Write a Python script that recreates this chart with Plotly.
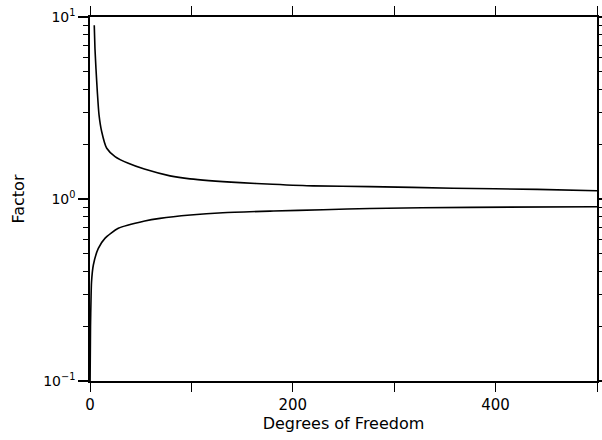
import plotly.graph_objects as go

# Upper factor curve
dof_upper = [4.2, 4.9, 5.9, 7.2, 8.9, 11.5, 16.5, 24.7, 37.8, 53.6, 78.9, 98.6,
             148, 180, 220, 276, 358, 441, 500]
factor_upper = [9.0, 6.7, 5.2, 3.9, 2.9, 2.35, 1.90, 1.71, 1.57, 1.46, 1.34, 1.29,
                1.23, 1.205, 1.18, 1.17, 1.146, 1.13, 1.11]

# Lower factor curve
dof_lower = [0.1, 0.5, 1.0, 1.5, 3.3, 8.2, 14.7, 27.9, 54, 69, 99, 131, 181,
             230, 276, 375, 500]
factor_lower = [0.10, 0.20, 0.28, 0.35, 0.434, 0.535, 0.608, 0.69, 0.757, 0.783,
                0.817, 0.841, 0.859, 0.873, 0.887, 0.90, 0.907]

x_tickvals = [0, 100, 200, 300, 400, 500]
x_ticktext = ["0", "", "200", "", "400", ""]
y_tickvals = [0.1, 1, 10]
y_ticktext = ["10<sup>\u22121</sup>", "10<sup>0</sup>", "10<sup>1</sup>"]
y_minorvals = [m * d for d in (0.1, 1) for m in range(2, 10)]

line_style = dict(color="black", width=1.6, shape="spline", smoothing=0.6)

fig = go.Figure()
fig.add_trace(go.Scatter(x=dof_upper, y=factor_upper, mode="lines",
                         line=line_style, showlegend=False))
# lower curve on the overlay axis (identical log scale) that carries minor ticks
fig.add_trace(go.Scatter(x=dof_lower, y=factor_lower, mode="lines",
                         line=line_style, showlegend=False, yaxis="y2"))

x_tick_font = dict(family="DejaVu Sans, sans-serif", size=15, color="black")
y_tick_font = dict(family="DejaVu Sans, sans-serif", size=14, color="black")
title_font = dict(family="DejaVu Sans, sans-serif", size=16, color="black")

fig.update_layout(
    width=602, height=440,
    margin=dict(l=90, r=5, t=17, b=59),
    plot_bgcolor="white", paper_bgcolor="white",
    font=x_tick_font,
    xaxis=dict(
        range=[0, 500], tickmode="array", tickvals=x_tickvals, ticktext=x_ticktext,
        ticks="outside", ticklen=9, tickwidth=1.4, tickcolor="black",
        showline=True, linecolor="black", linewidth=1.5, mirror="ticks",
        showgrid=False, zeroline=False, automargin=False,
        title=dict(text="Degrees of Freedom", font=title_font, standoff=2),
        tickfont=x_tick_font,
    ),
    yaxis=dict(
        type="log", range=[-1, 1], tickmode="array", tickvals=y_tickvals,
        ticktext=y_ticktext,
        ticks="outside", ticklen=10, tickwidth=1.5, tickcolor="black",
        showline=True, linecolor="black", linewidth=1.5, mirror="ticks",
        showgrid=False, zeroline=False, automargin=False,
        title=dict(text="Factor", font=title_font),
        tickfont=y_tick_font,
    ),
    yaxis2=dict(
        type="log", range=[-1, 1], overlaying="y", side="left", anchor="x",
        tickmode="array", tickvals=y_minorvals, ticks="outside", ticklen=5,
        tickwidth=1.3, tickcolor="black", showticklabels=False,
        showline=True, linecolor="black", linewidth=1.5, mirror="ticks",
        showgrid=False, zeroline=False, automargin=False,
    ),
)

fig.write_html("out.html", post_script="document.body.style.margin='0';",
               config={"displayModeBar": False})
